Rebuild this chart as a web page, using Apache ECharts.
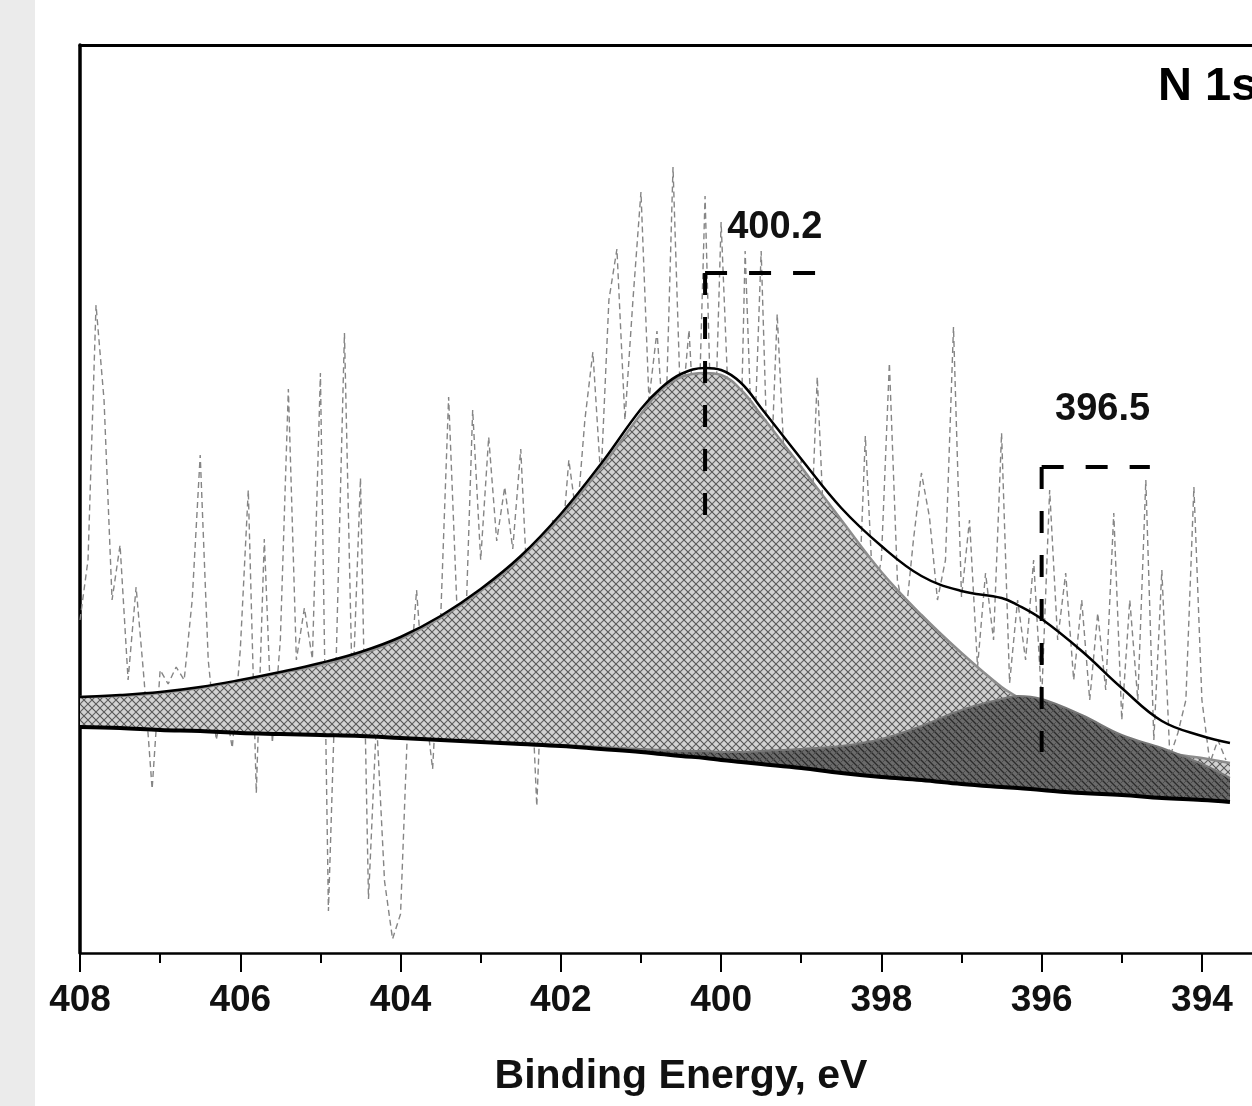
<!DOCTYPE html>
<html>
<head>
<meta charset="utf-8">
<script src="https://cdn.jsdelivr.net/npm/echarts@6/dist/echarts.min.js"></script>
<style>
html,body{margin:0;padding:0;background:#fff;}
#chart{width:1252px;height:1106px;}
</style>
</head>
<body>
<div id="chart"></div>
<script>
// ---- Fitted components (binding energy grid, eV) ----
const energyGrid = [408,407.5,407,406.5,406,405.5,405,404.5,404,403.5,403,402.5,402,401.5,401,400.75,400.5,400.2,400,399.75,399.5,399,398.5,398,397.5,397,396.5,396.3,396,395.5,395,394.5,394,393.65];
const background = [226,225,223,222,220,219,218,217,215,213,211,209,207,204,201,199,197,195,193,191,189,185,180,176,173,169,166,165,163,160,158,155,153,151];
const peak400 = [256,257,260,265,272,280,288,299,314,335,362,395,436,485,539,563,576,580,578,563,538,486,433,381,338,300,266,256,242,224,211,201,195,190];
const peak396 = [226,225,223,222,220,219,218,217,215,213,211,210,208,206,204,203,202,202,201,201,202,204,207,214,227,243,254,257,254,238,218,205,189,175];
const envelope = [256,258,261,266,273,281,290,301,316,337,364,397,439,489,544,565,579,585,583,570,545,494,445,407,377,362,355,348,334,302,265,232,217,210];

// ---- Raw (measured) spectrum ----
const rawEnergy = [
408.0,407.9,407.8,407.7,407.6,407.5,407.4,407.3,407.2,407.1,
407.0,406.9,406.8,406.7,406.6,406.5,406.4,406.3,406.2,406.1,
406.0,405.9,405.8,405.7,405.6,405.5,405.4,405.3,405.2,405.1,
405.0,404.9,404.8,404.7,404.6,404.5,404.4,404.3,404.2,404.1,
404.0,403.9,403.8,403.7,403.6,403.5,403.4,403.3,403.2,403.1,
403.0,402.9,402.8,402.7,402.6,402.5,402.4,402.3,402.2,402.1,
402.0,401.9,401.8,401.7,401.6,401.5,401.4,401.3,401.2,401.1,
401.0,400.9,400.8,400.7,400.6,400.5,400.4,400.3,400.2,400.1,
400.0,399.9,399.8,399.7,399.6,399.5,399.4,399.3,399.2,399.1,
399.0,398.9,398.8,398.7,398.6,398.5,398.4,398.3,398.2,398.1,
398.0,397.9,397.8,397.7,397.6,397.5,397.4,397.3,397.2,397.1,
397.0,396.9,396.8,396.7,396.6,396.5,396.4,396.3,396.2,396.1,
396.0,395.9,395.8,395.7,395.6,395.5,395.4,395.3,395.2,395.1,
395.0,394.9,394.8,394.7,394.6,394.5,394.4,394.3,394.2,394.1,
394.0,393.9,393.8,393.7];
const rawCounts = [
333,393,648,553,353,408,273,366,273,164,
283,269,286,273,353,498,293,213,253,205,
303,463,160,414,210,313,564,293,345,294,
580,42,303,620,253,475,54,233,72,14,
39,253,363,253,184,333,556,353,293,543,
393,516,412,466,404,504,333,147,353,433,
393,493,433,533,601,473,653,704,533,653,
761,553,622,503,786,533,623,473,757,453,
731,533,353,702,473,702,433,639,473,393,
493,373,576,393,433,333,413,313,517,353,
393,590,373,333,413,480,436,353,393,626,
356,433,286,380,313,520,270,353,293,393,
253,463,313,380,273,353,253,340,263,440,
233,353,253,473,213,383,196,220,253,466,
253,190,213,193];

// ---- Peak annotations ----
const markerEnergy = [400.2, 396.0];
const markerTop = [680, 486];
const markerBottom = [423, 201];
const markerEnd = [398.75, 394.65];
const markerLabels = ['400.2', '396.5'];
const labelEnergy = [399.33, 395.24];
const labelCounts = [725, 543];

// ---- Axis ticks ----
const majorTicks = [394, 396, 398, 400, 402, 404, 406, 408];
const minorTicks = [395, 397, 399, 401, 403, 405, 407];

const FONT = 'Liberation Sans, Arial, sans-serif';
const SMOOTH = 0.4;

function hatch(bg, c1, w1, c2, w2, s) {
  const cv = document.createElement('canvas');
  cv.width = s; cv.height = s;
  const ctx = cv.getContext('2d');
  ctx.fillStyle = bg; ctx.fillRect(0, 0, s, s);
  ctx.strokeStyle = c1; ctx.lineWidth = w1;
  ctx.beginPath();
  for (let k = -1; k <= 1; k++) { ctx.moveTo(k * s, 0); ctx.lineTo(k * s + s, s); }
  ctx.stroke();
  ctx.strokeStyle = c2; ctx.lineWidth = w2;
  ctx.beginPath();
  for (let k = -1; k <= 1; k++) { ctx.moveTo(k * s, s); ctx.lineTo(k * s + s, 0); }
  ctx.stroke();
  return cv;
}
const lightPattern = hatch('#d2d2d2', '#525252', 1.1, '#606060', 1.1, 8);
const darkPattern = hatch('#6a6a6a', '#2a2a2a', 1.3, '#4c4c4c', 1, 7);

const pairs = (xs, ys) => xs.map((x, i) => [x, ys[i]]);

// filled band between an upper curve and the background, drawn through the axes
function band(upper, lower, pattern, z) {
  return {
    type: 'custom', z: z, silent: true, clip: true,
    data: energyGrid.map((e, i) => [e, upper[i], lower[i]]),
    encode: { x: 0, y: [1, 2] },
    renderItem: function (params, api) {
      if (params.dataIndex !== 0) return null;
      const up = energyGrid.map((e, i) => api.coord([e, upper[i]]));
      const lo = energyGrid.map((e, i) => api.coord([e, lower[i]])).reverse();
      const pts = [];
      up.forEach((p, i) => { pts.push(p); if (i === 0 || i === up.length - 1) pts.push(p.slice()); });
      lo.forEach((p, i) => { pts.push(p); if (i === 0 || i === lo.length - 1) pts.push(p.slice()); });
      return { type: 'polygon', shape: { points: pts, smooth: SMOOTH },
        style: { fill: { image: pattern, repeat: 'repeat' }, stroke: null } };
    }
  };
}

const series = [
  { name: 'raw', type: 'line', data: pairs(rawEnergy, rawCounts), symbol: 'none', z: 1,
    lineStyle: { color: '#858585', width: 1.4, type: [6, 4] } },
  band(peak400, background, lightPattern, 2),
  { name: 'peak400', type: 'line', data: pairs(energyGrid, peak400), symbol: 'none', smooth: SMOOTH, z: 3,
    lineStyle: { color: '#8c8c8c', width: 2.5 } },
  band(peak396, background, darkPattern, 4),
  { name: 'peak396', type: 'line', data: pairs(energyGrid, peak396), symbol: 'none', smooth: SMOOTH, z: 5,
    lineStyle: { color: '#777777', width: 2 } },
  { name: 'envelope', type: 'line', data: pairs(energyGrid, envelope), symbol: 'none', smooth: SMOOTH, z: 6,
    lineStyle: { color: '#000', width: 2.5 } },
  { name: 'background', type: 'line', data: pairs(energyGrid, background), symbol: 'none', smooth: SMOOTH, z: 7,
    lineStyle: { color: '#000', width: 4 } }
];

markerEnergy.forEach((e, i) => {
  series.push({ type: 'line', data: [[e, markerTop[i]], [markerEnd[i], markerTop[i]]], symbol: 'none', z: 8,
    lineStyle: { color: '#000', width: 4, type: [22, 22] } });
  series.push({ type: 'line', data: [[e, markerTop[i]], [e, markerBottom[i]]], symbol: 'none', z: 8,
    lineStyle: { color: '#000', width: 4, type: [22, 22] } });
});
series.push({
  type: 'scatter', symbolSize: 0, z: 9, itemStyle: { opacity: 1 },
  data: labelEnergy.map((e, i) => ({ value: [e, labelCounts[i]], name: markerLabels[i] })),
  label: { show: true, position: 'inside', formatter: p => p.name,
    fontFamily: FONT, fontWeight: 'bold', fontSize: 38, color: '#111', opacity: 1 }
});

const xRange = { min: 393.375, max: 408 };
const chart = echarts.init(document.getElementById('chart'), null, { renderer: 'canvas' });
chart.setOption({
  animation: false,
  backgroundColor: '#ffffff',
  grid: { left: 80, top: 45, right: 0, height: 908, show: false },
  xAxis: [
    {
      type: 'value', inverse: true, min: xRange.min, max: xRange.max, position: 'bottom',
      axisLine: { show: true, lineStyle: { color: '#000', width: 2.5 } },
      axisTick: { show: true, inside: false, length: 19, customValues: majorTicks, lineStyle: { color: '#000', width: 2 } },
      splitLine: { show: false },
      axisLabel: { margin: 29, customValues: majorTicks, fontFamily: FONT, fontWeight: 'bold', fontSize: 37, color: '#111' }
    },
    {
      type: 'value', inverse: true, min: xRange.min, max: xRange.max, position: 'bottom', offset: 0,
      axisLine: { show: false },
      axisTick: { show: true, inside: false, length: 10, customValues: minorTicks, lineStyle: { color: '#000', width: 2 } },
      axisLabel: { show: false }, splitLine: { show: false }
    },
    {
      type: 'value', inverse: true, min: xRange.min, max: xRange.max, position: 'top',
      axisLine: { show: true, lineStyle: { color: '#000', width: 3 } },
      axisTick: { show: false }, axisLabel: { show: false }, splitLine: { show: false }
    }
  ],
  yAxis: {
    type: 'value', min: 0, max: 908,
    axisLine: { show: true, lineStyle: { color: '#000', width: 3.5 } },
    axisTick: { show: false }, axisLabel: { show: false }, splitLine: { show: false }
  },
  graphic: [
    { type: 'rect', left: 0, top: 0, shape: { width: 35, height: 1106 }, style: { fill: '#ebebeb' }, z: -10 },
    { type: 'text', left: 1158, top: 64, style: { text: 'N 1s', fontFamily: FONT, fontWeight: 'bold', fontSize: 47, fill: '#000' } },
    { type: 'text', x: 681, y: 1077, style: { text: 'Binding Energy, eV', textAlign: 'center', textVerticalAlign: 'middle', fontFamily: FONT, fontWeight: 'bold', fontSize: 41, fill: '#111' } }
  ],
  series: series
});
</script>
</body>
</html>
